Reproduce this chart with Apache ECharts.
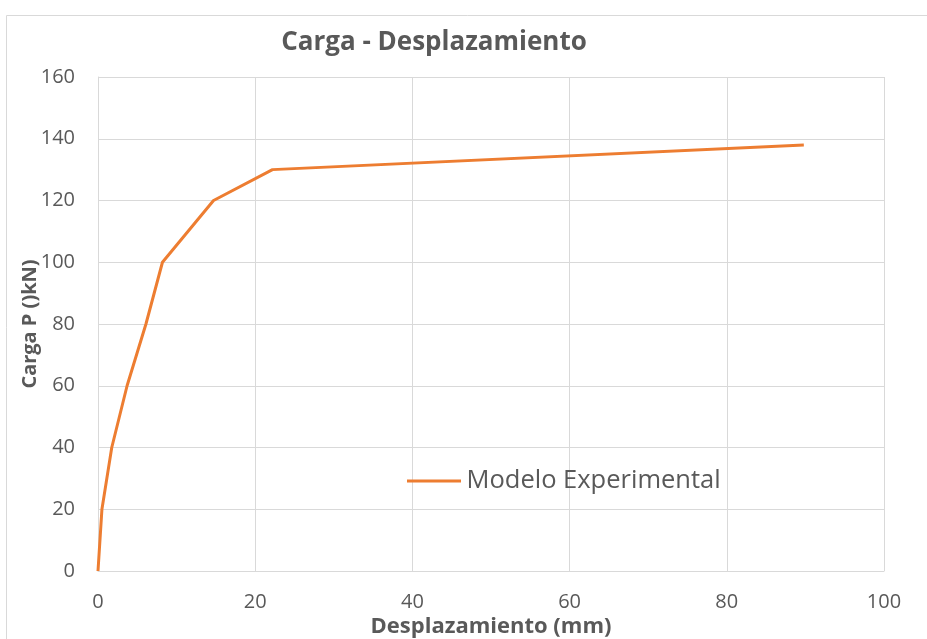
<!DOCTYPE html>
<html><head><meta charset="utf-8">
<script src="https://cdn.jsdelivr.net/npm/echarts@6/dist/echarts.min.js"></script>
<style>html,body{margin:0;padding:0;background:#fff}#c{width:927px;height:639px}</style>
</head><body><div id="c"></div>
<script>
const desplazamiento = [0, 0.5, 1.75, 3.7, 6.1, 8.2, 14.7, 22.2, 89.8];
const carga = [0, 20, 40, 60, 80, 100, 120, 130, 138];
const seriesName = 'Modelo Experimental';
const titleText = 'Carga - Desplazamiento';
const xTitle = 'Desplazamiento (mm)';
const yTitle = 'Carga P ()kN)';

const font = '"Open Sans", "Noto Sans", sans-serif';
const chart = echarts.init(document.getElementById('c'));
chart.setOption({
  animation: false,
  graphic: [{type:'rect', shape:{x:6.5,y:15.5,width:940,height:640}, style:{fill:'none', stroke:'#d9d9d9', lineWidth:1}, silent:true}],
  title: {text: titleText, left: 429, top: 25, textAlign: 'center',
    textStyle:{fontFamily:font, fontSize:26, fontWeight:'bold', color:'#595959'}},
  legend: {left: 402, top: 463, itemWidth: 55, itemHeight: 3, itemGap: 0,
    textStyle:{fontFamily:font, fontSize:25.5, color:'#595959', padding:[0,0,0,0]},
    data:[{name: seriesName, icon:'path://M0,0H54V3H0Z'}]},
  grid: {left: 98, right: 43, top: 77, bottom: 68, containLabel: false, outerBoundsMode: 'none'},
  xAxis: {type:'value', min:0, max:100, interval:20,
    name: xTitle, nameLocation:'middle', nameGap: 45, nameMoveOverlap: false,
    nameTextStyle:{fontFamily:font, fontSize:22, fontWeight:'bold', color:'#595959'},
    axisLine:{show:true, lineStyle:{color:'#d9d9d9', width:1}},
    axisTick:{show:false},
    axisLabel:{fontFamily:font, fontSize:20, color:'#595959', margin:21},
    splitLine:{show:true, lineStyle:{color:'#d9d9d9', width:1}}},
  yAxis: {type:'value', min:0, max:160, interval:20,
    name: yTitle, nameLocation:'middle', nameGap: 58, nameRotate: 90, nameMoveOverlap: false,
    nameTextStyle:{fontFamily:font, fontSize:20, fontWeight:'bold', color:'#595959'},
    axisLine:{show:true, lineStyle:{color:'#d9d9d9', width:1}},
    axisTick:{show:false},
    axisLabel:{fontFamily:font, fontSize:20, color:'#595959', margin:23},
    splitLine:{show:true, lineStyle:{color:'#d9d9d9', width:1}}},
  series: [{name: seriesName, type:'line', showSymbol:false, symbol:'none',
    data: desplazamiento.map((x,i)=>[x, carga[i]]),
    lineStyle:{color:'#ED7D31', width:3}, itemStyle:{color:'#ED7D31'}}]
});
</script></body></html>
